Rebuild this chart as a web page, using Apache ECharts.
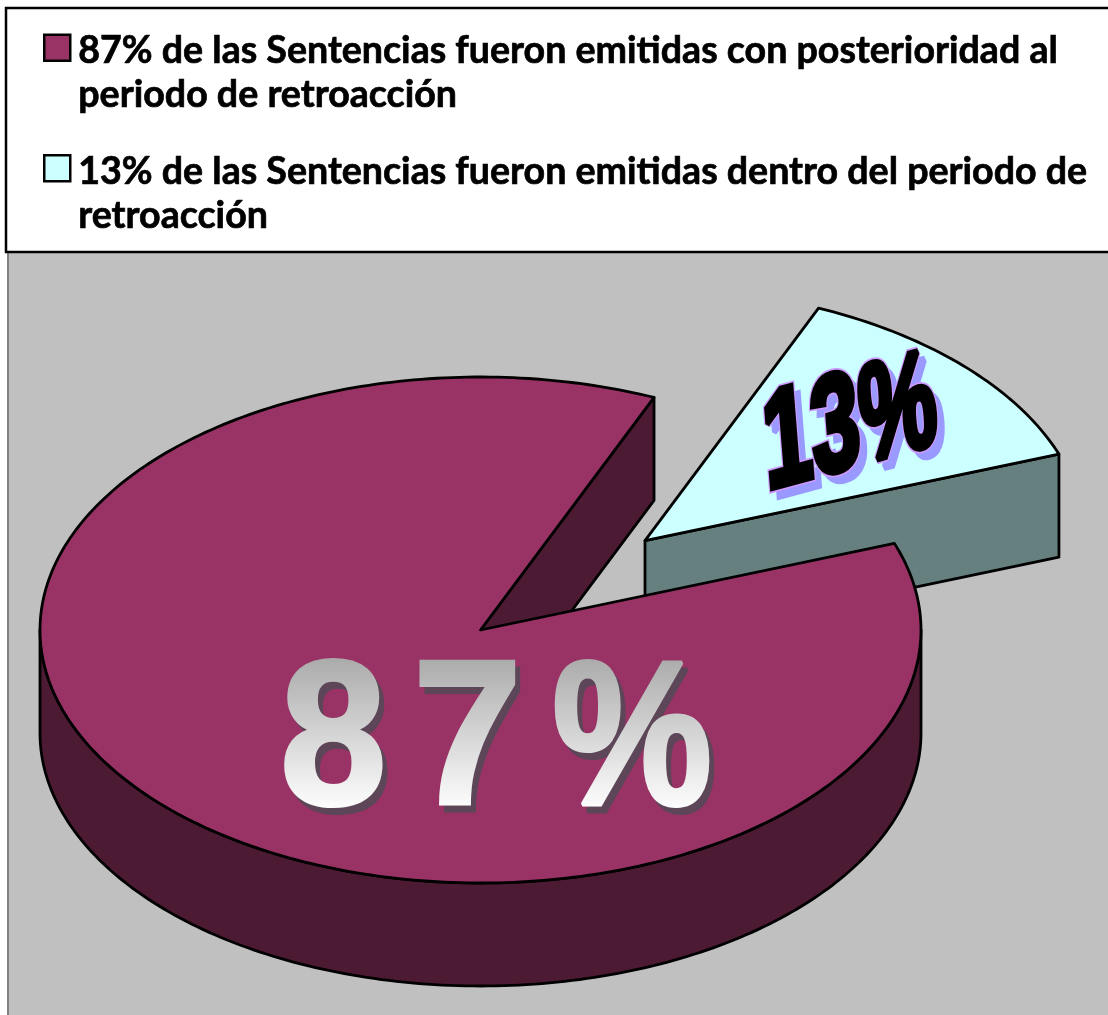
<!DOCTYPE html>
<html><head><meta charset="utf-8">
<style>html,body{margin:0;padding:0;background:#fff}#c{width:1108px;height:1015px}</style>
<script src="https://cdn.jsdelivr.net/npm/echarts@6/dist/echarts.min.js"></script>
</head><body><div id="c"></div>
<script>
const percentages = [13, 87];
const legendNames = [
  '87% de las Sentencias fueron emitidas con posterioridad al\nperiodo de retroacción',
  '13% de las Sentencias fueron emitidas dentro del periodo de\nretroacción'
];
const topColors = ['#CCFFFF', '#993366'];
const sideColors = ['#668080', '#4D1A33'];

const chart = echarts.init(document.getElementById('c'));
const CX = 480.5, CY = 630, RX = 440.5, RY = 253, DEPTH = 103;
const FIRST_ANGLE = 23.2, EXPLODE = 0.514;

function pt(cx, cy, deg, dy) {
  const a = deg * Math.PI / 180;
  return [cx + RX * Math.sin(a), cy - RY * Math.cos(a) + (dy || 0)];
}
function arc(cx, cy, a0, a1, dy) {
  const n = Math.max(2, Math.ceil(Math.abs(a1 - a0)));
  const out = [];
  for (let i = 0; i <= n; i++) out.push(pt(cx, cy, a0 + (a1 - a0) * i / n, dy));
  return out;
}
const lineStyle = (fill) => ({ fill, stroke: '#000', lineWidth: 2.8, lineJoin: 'round' });

function sliceChildren(start, sweep, idx) {
  const end = start + sweep;
  const explode = idx === 0;
  const mid = start + sweep / 2, m = mid * Math.PI / 180;
  const cx = CX + (explode ? EXPLODE * RX * Math.sin(m) : 0);
  const cy = CY - (explode ? EXPLODE * RY * Math.cos(m) : 0);
  const kids = [];
  const e = pt(cx, cy, end);
  kids.push({ type: 'polygon', shape: { points: [[cx, cy], e, [e[0], e[1] + DEPTH], [cx, cy + DEPTH]] }, style: lineStyle(sideColors[idx]) });
  const a0 = Math.max(start, 90), a1 = Math.min(end, 270);
  if (a1 > a0) {
    const top = arc(cx, cy, a0, a1), bot = arc(cx, cy, a1, a0, DEPTH);
    kids.push({ type: 'polygon', shape: { points: top.concat(bot) }, style: lineStyle(sideColors[idx]) });
  }
  kids.push({ type: 'polygon', shape: { points: [[cx, cy]].concat(arc(cx, cy, start, end)) }, style: lineStyle(topColors[idx]) });
  return kids;
}

// Split a 2x2 matrix into rotation * scale * rotation, to get a WordArt-style shear
function shear(a, b, c, d) {
  const E = (a + d) / 2, F = (a - d) / 2, G = (c + b) / 2, H = (c - b) / 2;
  const Q = Math.hypot(E, H), R = Math.hypot(F, G);
  const a1 = Math.atan2(G, F), a2 = Math.atan2(H, E);
  return { sx: Q + R, sy: Q - R, inner: -(a2 - a1) / 2, outer: -(a2 + a1) / 2 };
}

function label13(text) {
  const t = shear(0.73, 0.092, -0.20, 1.16);
  const base = { text, x: 0, y: 25, font: 'bold 118px "Liberation Sans"', textAlign: 'left', textVerticalAlign: 'bottom', lineJoin: 'miter' };
  const layer = (extra, dx, dy) => ({
    type: 'group', x: 767 + dx, y: 491 + dy, rotation: t.outer, scaleX: t.sx, scaleY: t.sy,
    children: [{ type: 'text', rotation: t.inner, style: Object.assign({}, base, extra) }]
  });
  return [
    layer({ fill: '#9999FF', stroke: '#9999FF', lineWidth: 7 }, 7, 8),
    layer({ fill: '#000', stroke: '#CC99FF', lineWidth: 9 }, 0, 0),
    layer({ fill: '#000', stroke: '#000', lineWidth: 6 }, 0, 0)
  ];
}

function mix(t) {
  const v = Math.round(168 + (255 - 168) * t);
  return 'rgb(' + v + ',' + v + ',' + v + ')';
}
function label87(text) {
  const chars = text.split('');
  const xs = [280, 413, 552];
  const scales = [0.93, 0.95, 0.875];
  const topY = 644;
  const font = 'bold 206px "Liberation Sans"';
  const kids = [];
  const glyph = (i, c, dx, dy, fill) => ({ type: 'text', x: xs[i] + dx, y: topY + dy, scaleX: scales[i], style: { text: c, x: 0, y: 0, font, fill, stroke: fill, lineWidth: 4, lineJoin: 'round' } });
  chars.forEach((c, i) => kids.push(glyph(i, c, 5, 7, '#5C4658')));
  // vertical gradient on the glyphs: horizontal clipped bands
  const y0 = 652, y1 = 810, step = 2;
  for (let y = y0; y < y1; y += step) {
    kids.push({
      type: 'group',
      clipPath: { type: 'rect', shape: { x: 270, y, width: 460, height: step } },
      children: chars.map((c, i) => glyph(i, c, 0, 0, mix((y - y0) / (y1 - y0))))
    });
  }
  return kids;
}

function makeSeries(idx) {
  const prior = idx === 0 ? 0 : percentages[0];
  return {
    type: 'custom',
    name: legendNames[idx === 0 ? 1 : 0],
    silent: true,
    coordinateSystem: 'none',
    itemStyle: { color: topColors[idx] },
    data: [[percentages[idx]]],
    renderItem: (params, api) => {
      const v = api.value(0);
      const start = FIRST_ANGLE + prior / 100 * 360;
      const kids = sliceChildren(start, v / 100 * 360, idx);
      return { type: 'group', children: kids.concat(idx === 0 ? label13(v + '%') : label87(v + '%')) };
    }
  };
}

const swatch = 'path://M0,0 M0,88 M0,5.5 H26 V31.5 H0 Z';
chart.setOption({
  animation: false,
  backgroundColor: '#fff',
  graphic: { elements: [
    { type: 'rect', z: 0, shape: { x: 8, y: 252, width: 1110, height: 780 }, style: { fill: '#C0C0C0', stroke: '#808080', lineWidth: 2 } },
    { type: 'rect', z: 0, shape: { x: 6, y: 8, width: 1120, height: 244 }, style: { fill: '#fff', stroke: '#000', lineWidth: 2.5 } }
  ] },
  legend: {
    orient: 'vertical', left: 43, top: 28, padding: 0, itemGap: 30, itemWidth: 26, itemHeight: 88, selectedMode: false,
    data: [
      { name: legendNames[0], icon: swatch, itemStyle: { color: topColors[1], borderColor: '#000', borderWidth: 2.5 } },
      { name: legendNames[1], icon: swatch, itemStyle: { color: topColors[0], borderColor: '#000', borderWidth: 2.5 } }
    ],
    textStyle: { fontFamily: 'Lato', fontWeight: 'bold', fontSize: 37.6, lineHeight: 44, color: '#000', textBorderColor: '#000', textBorderWidth: 0.7, padding: [0, 0, 0, 3] }
  },
  series: [makeSeries(0), makeSeries(1)]
});
</script></body></html>
